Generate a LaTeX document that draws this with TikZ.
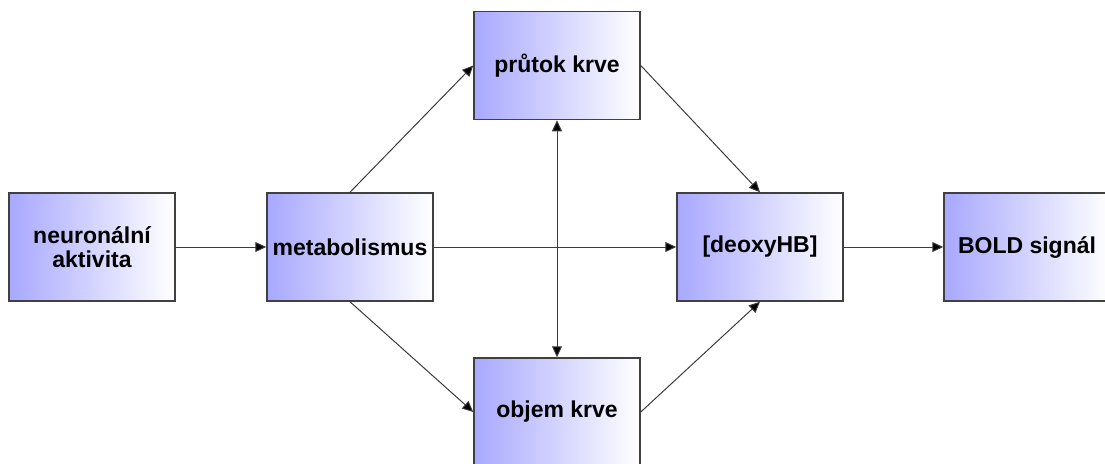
\documentclass[tikz,border=0pt]{standalone}
\usepackage{fontspec}
\setmainfont{Liberation Sans}
\usetikzlibrary{arrows.meta}
\definecolor{boxblue}{RGB}{168,168,255}
\definecolor{edgegray}{RGB}{64,64,64}
\definecolor{linegray}{RGB}{60,60,60}
\tikzset{
  box/.style={draw=edgegray, line width=1.5pt, left color=boxblue, right color=white,
    minimum width=166pt, minimum height=108pt, inner sep=0pt, align=center,
    font=\fontsize{23}{26}\selectfont\bfseries},
  conn/.style={draw=linegray, line width=1pt, -{Triangle[length=11pt,width=10pt,fill=black]}},
  dconn/.style={draw=linegray, line width=1pt, {Triangle[length=11pt,width=10pt,fill=black]}-{Triangle[length=11pt,width=10pt,fill=black]}}
}
\begin{document}
\begin{tikzpicture}[x=1pt,y=-1pt]
\useasboundingbox (0,0) rectangle (1105,463);
\clip (0,0) rectangle (1105,463);
\node[box] (na) at (92,247) {neuronální\\[-2pt]aktivita};
\node[box] (met) at (350,247) {metabolismus};
\node[box] (pr) at (557,65.5) {průtok krve};
\node[box] (deo) at (760,247) {[deoxyHB]};
\node[box] (bold) at (1027,247) {BOLD signál};
\node[box] (obj) at (557,412) {objem krve};
\draw[conn] (na.east) -- (met.west);
\draw[conn] (met.north) -- (pr.west);
\draw[conn] (met.south) -- (obj.west);
\draw[conn] (met.east) -- (deo.west);
\draw[conn] (pr.east) -- (deo.north);
\draw[conn] (obj.east) -- (deo.south);
\draw[dconn] (pr.south) -- (obj.north);
\draw[conn] (deo.east) -- (bold.west);
\end{tikzpicture}
\end{document}
